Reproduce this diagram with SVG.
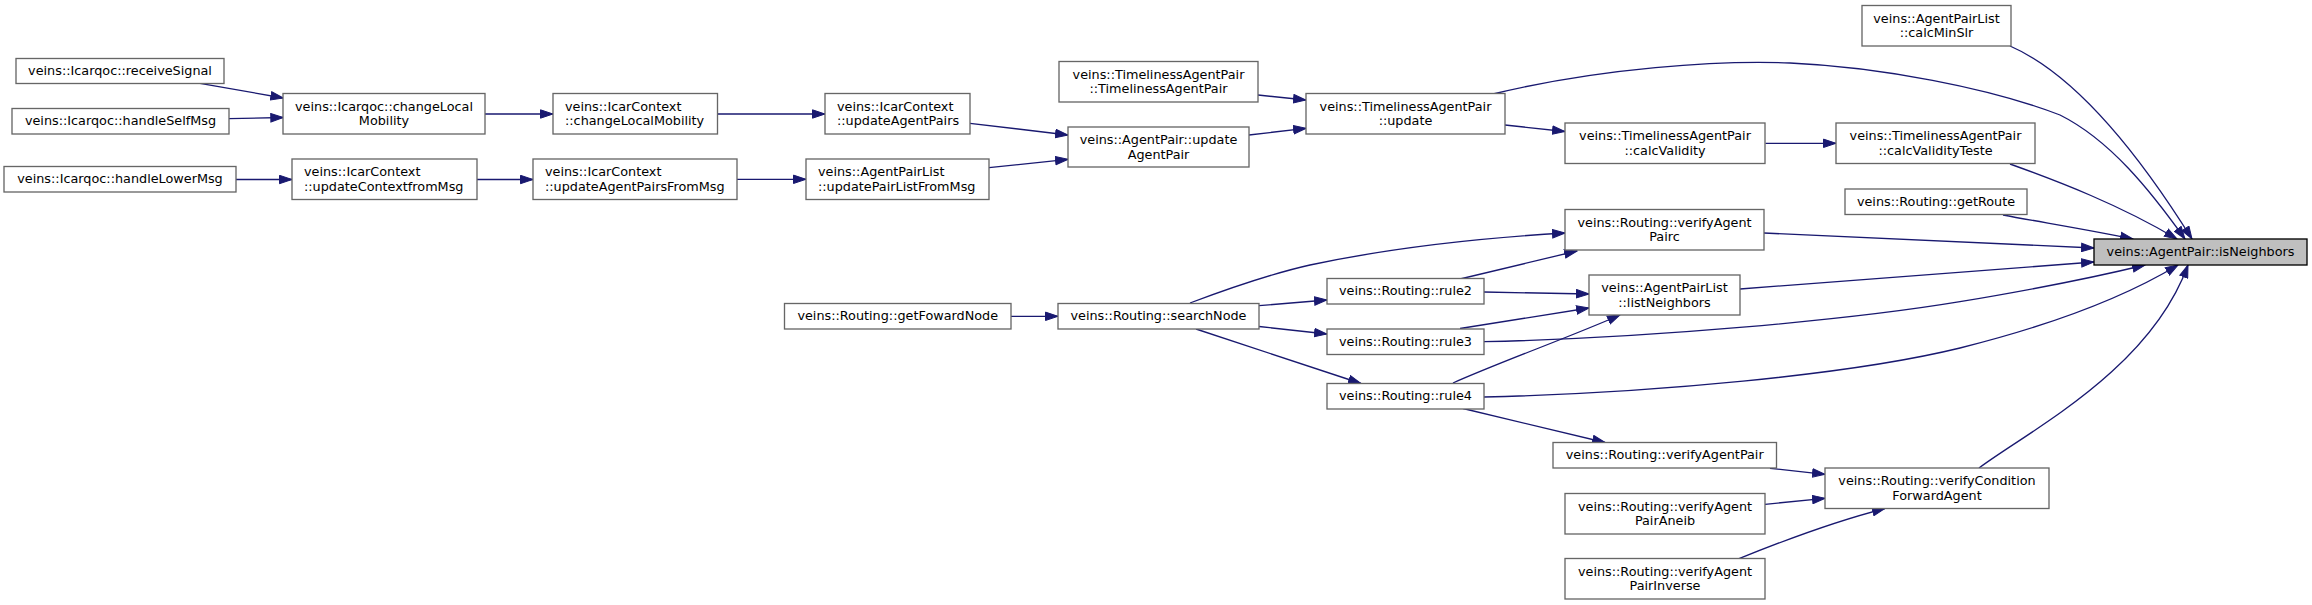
<svg xmlns="http://www.w3.org/2000/svg" width="2312" height="605" viewBox="0 0 2312 605">
<style>
.n rect{fill:#fff;stroke:#666;stroke-width:1.33}
#n17 rect{fill:#bfbfbf;stroke:#000}
text{font-family:"DejaVu Sans",sans-serif;font-size:12.8px;fill:#000}
.c{text-anchor:middle}
#edges path{fill:none;stroke:#191970;stroke-width:1.33;marker-end:url(#a)}
</style>
<defs>
<marker id="a" markerUnits="userSpaceOnUse" markerWidth="14" markerHeight="10" refX="13" refY="4.7" orient="auto" viewBox="0 0 14 9.4"><path d="M0.5,0.5 L13,4.7 L0.5,8.9 z" fill="#191970" stroke="#191970"/></marker>
</defs>
<rect x="0" y="0" width="2312" height="605" fill="#fff"/>
<g id="edges">
<path d="M200,83.3 L283.3,98"/>
<path d="M229,118.7 L283.3,117.5"/>
<path d="M485,114 L553,114"/>
<path d="M717,114 L825,114"/>
<path d="M236,179.5 L292,179.5"/>
<path d="M477,179.5 L533,179.5"/>
<path d="M737,179.3 L806,179.3"/>
<path d="M970,123.3 L1068,135"/>
<path d="M989,167.7 L1068,159.3"/>
<path d="M1258,95 L1306,100"/>
<path d="M1249,135 L1306,128.3"/>
<path d="M1493,94 C1600,68 1720,60 1790,63 C1880,67 1990,88 2060,115 C2110,140 2150,190 2185,239"/>
<path d="M1505,125 L1565,131.5"/>
<path d="M1765.5,143.3 L1836,143.3"/>
<path d="M2010,46 C2070,72 2130,140 2192,239"/>
<path d="M2010,164 C2060,182 2120,205 2177,239"/>
<path d="M2003,215 C2040,222 2090,230 2133,239"/>
<path d="M1764,233 L2094,248"/>
<path d="M1740,289 L2094,262"/>
<path d="M1011,316.3 L1058,316.3"/>
<path d="M1190,303 C1230,288 1270,274 1310,265 C1390,248 1480,238 1565,233"/>
<path d="M1259,305.7 L1327,300"/>
<path d="M1259,326.5 L1327,334"/>
<path d="M1196,329 L1361,383.5"/>
<path d="M1460,279 L1577,251"/>
<path d="M1484,292 L1589,294"/>
<path d="M1460,328.5 L1589,308"/>
<path d="M1484,341.7 C1650,338 1850,320 1960,301.7 C2030,290 2100,276 2145,265"/>
<path d="M1453,383 C1500,362 1570,337 1620,315"/>
<path d="M1484,397 C1650,393 1850,375 1960,348 C2040,328 2120,300 2178,265"/>
<path d="M1463,408.5 L1605,442.5"/>
<path d="M1979,468 C2030,430 2150,370 2188,265"/>
<path d="M1770,468.3 L1825,474.3"/>
<path d="M1765,504.3 L1825,498.3"/>
<path d="M1739,558.7 C1780,542 1840,520 1885,508.5"/>
</g>
<g id="n1" class="n"><rect x="16" y="58.5" width="208" height="25"/><text class="c" x="120" y="75.2">veins::Icarqoc::receiveSignal</text></g>
<g id="n2" class="n"><rect x="12" y="108.5" width="217" height="25.5"/><text class="c" x="120.5" y="125.4">veins::Icarqoc::handleSelfMsg</text></g>
<g id="n3" class="n"><rect x="4" y="166.5" width="232" height="25.5"/><text class="c" x="120" y="183.4">veins::Icarqoc::handleLowerMsg</text></g>
<g id="n4" class="n"><rect x="283" y="93.5" width="202" height="40.5"/><text class="c" x="384" y="110.5">veins::Icarqoc::changeLocal</text><text class="c" x="384" y="125.3">Mobility</text></g>
<g id="n5" class="n"><rect x="553" y="93.5" width="164.5" height="40.5"/><text x="565" y="110.5">veins::IcarContext</text><text x="565" y="125.3">::changeLocalMobility</text></g>
<g id="n6" class="n"><rect x="825" y="93.5" width="145" height="40.5"/><text x="837" y="110.5">veins::IcarContext</text><text x="837" y="125.3">::updateAgentPairs</text></g>
<g id="n7" class="n"><rect x="292" y="159" width="185" height="40.5"/><text x="304" y="176">veins::IcarContext</text><text x="304" y="190.8">::updateContextfromMsg</text></g>
<g id="n8" class="n"><rect x="533" y="159" width="204" height="40.5"/><text x="545" y="176">veins::IcarContext</text><text x="545" y="190.8">::updateAgentPairsFromMsg</text></g>
<g id="n9" class="n"><rect x="806" y="159" width="183" height="40.5"/><text x="818" y="176">veins::AgentPairList</text><text x="818" y="190.8">::updatePairListFromMsg</text></g>
<g id="n10" class="n"><rect x="1059" y="61.5" width="199" height="40.5"/><text class="c" x="1158.5" y="78.5">veins::TimelinessAgentPair</text><text class="c" x="1158.5" y="93.3">::TimelinessAgentPair</text></g>
<g id="n11" class="n"><rect x="1068" y="127" width="181" height="40"/><text class="c" x="1158.5" y="143.8">veins::AgentPair::update</text><text class="c" x="1158.5" y="158.6">AgentPair</text></g>
<g id="n12" class="n"><rect x="1306" y="93.5" width="199" height="40.5"/><text class="c" x="1405.5" y="110.5">veins::TimelinessAgentPair</text><text class="c" x="1405.5" y="125.3">::update</text></g>
<g id="n13" class="n"><rect x="1862" y="5.5" width="149" height="40.5"/><text class="c" x="1936.5" y="22.5">veins::AgentPairList</text><text class="c" x="1936.5" y="37.3">::calcMinSlr</text></g>
<g id="n14" class="n"><rect x="1565" y="123" width="200" height="40.5"/><text class="c" x="1665" y="140">veins::TimelinessAgentPair</text><text class="c" x="1665" y="154.8">::calcValidity</text></g>
<g id="n15" class="n"><rect x="1836" y="123" width="199" height="40.5"/><text class="c" x="1935.5" y="140">veins::TimelinessAgentPair</text><text class="c" x="1935.5" y="154.8">::calcValidityTeste</text></g>
<g id="n16" class="n"><rect x="1845" y="189" width="182" height="25.5"/><text class="c" x="1936" y="206">veins::Routing::getRoute</text></g>
<g id="n17" class="n"><rect x="2094" y="239" width="213" height="26"/><text class="c" x="2200.5" y="256.2">veins::AgentPair::isNeighbors</text></g>
<g id="n18" class="n"><rect x="1565" y="209.5" width="199" height="40.5"/><text class="c" x="1664.5" y="226.5">veins::Routing::verifyAgent</text><text class="c" x="1664.5" y="241.3">Pairc</text></g>
<g id="n19" class="n"><rect x="1589" y="275" width="151" height="40"/><text class="c" x="1664.5" y="291.8">veins::AgentPairList</text><text class="c" x="1664.5" y="306.6">::listNeighbors</text></g>
<g id="n20" class="n"><rect x="784.5" y="303.5" width="226.5" height="25.5"/><text class="c" x="897.75" y="320.4">veins::Routing::getFowardNode</text></g>
<g id="n21" class="n"><rect x="1058" y="303.5" width="201" height="25.5"/><text class="c" x="1158.5" y="320.4">veins::Routing::searchNode</text></g>
<g id="n22" class="n"><rect x="1327" y="278.5" width="157" height="25.5"/><text class="c" x="1405.5" y="295.4">veins::Routing::rule2</text></g>
<g id="n23" class="n"><rect x="1327" y="329" width="157" height="25.5"/><text class="c" x="1405.5" y="345.9">veins::Routing::rule3</text></g>
<g id="n24" class="n"><rect x="1327" y="383.5" width="157" height="25.5"/><text class="c" x="1405.5" y="400.4">veins::Routing::rule4</text></g>
<g id="n25" class="n"><rect x="1553" y="442.5" width="223.5" height="25.5"/><text class="c" x="1664.75" y="459.4">veins::Routing::verifyAgentPair</text></g>
<g id="n26" class="n"><rect x="1825" y="468" width="224" height="40.5"/><text class="c" x="1937" y="485">veins::Routing::verifyCondition</text><text class="c" x="1937" y="499.8">ForwardAgent</text></g>
<g id="n27" class="n"><rect x="1565" y="493.5" width="200" height="40.5"/><text class="c" x="1665" y="510.5">veins::Routing::verifyAgent</text><text class="c" x="1665" y="525.3">PairAneib</text></g>
<g id="n28" class="n"><rect x="1565" y="558.5" width="200" height="40.5"/><text class="c" x="1665" y="575.5">veins::Routing::verifyAgent</text><text class="c" x="1665" y="590.3">PairInverse</text></g>
</svg>
